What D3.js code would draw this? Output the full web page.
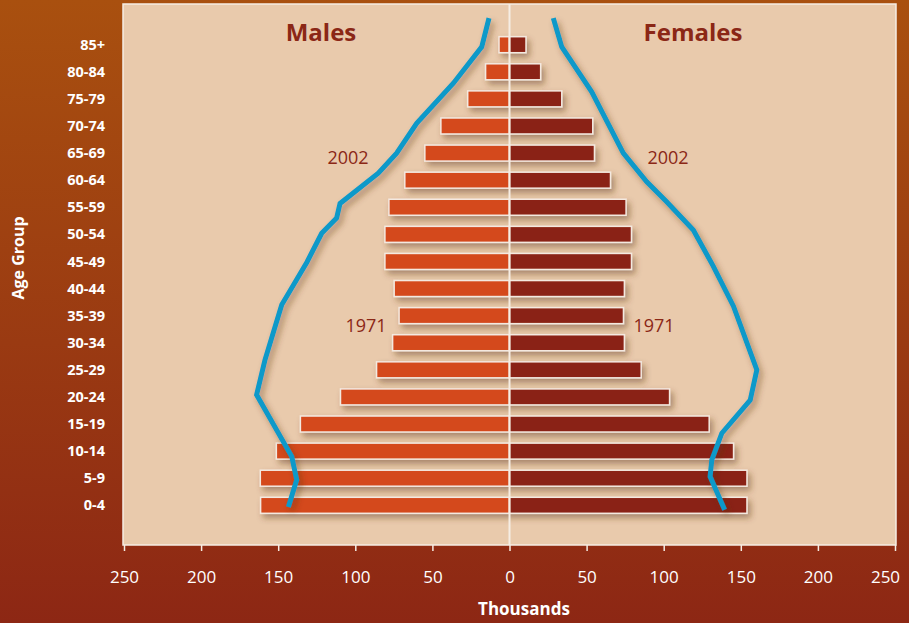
<!DOCTYPE html>
<html>
<head>
<meta charset="utf-8">
<script src="https://cdn.jsdelivr.net/npm/d3@7"></script>
<style>
  html, body { margin: 0; padding: 0; background: #9a3a12; }
  svg { display: block; }
  text { font-family: "Open Sans", "Noto Sans", sans-serif; }
</style>
</head>
<body>
<svg id="chart" width="909" height="623"></svg>
<script>
// ---- data (thousands) ----
const ageGroups = ["0-4","5-9","10-14","15-19","20-24","25-29","30-34","35-39","40-44",
                   "45-49","50-54","55-59","60-64","65-69","70-74","75-79","80-84","85+"];
const males1971   = [161.4,161.6,151.2,135.6,109.6,86.2,75.8,71.6,74.8,80.8,80.8,78.2,67.9,54.9,44.5,27.1,15.5,6.8];
const females1971 = [154,154,145.3,129.5,103.8,85.4,74.5,73.9,74.5,79.1,79.1,75.6,65.5,55.1,54,33.9,20.2,10.7];

// 2002 outlines: age (years) and population (thousands)
const male2002Ages   = [2.2, 7.2, 11.5, 22.9, 29.3, 39.5, 43.1, 47.4, 52.7, 55.5, 58.2, 63.8, 67.5, 73, 80.4, 87.1, 92.4];
const male2002Values = [143.4,138,141.2,164,158.6,147.7,140.2,131.3,121.8,112.1,109.9,85.1,73.2,60.2,36.4,18,13.3];
const female2002Ages   = [1.7, 7.8, 10.9, 15.8, 21.9, 27.5, 39.2, 46.6, 53.3, 58.5, 62.2, 67.5, 78.8, 87.1, 92.4];
const female2002Values = [139.5,130.1,131.2,137.7,156.1,160.4,145.3,132.2,119.2,101.9,89,73.8,53.3,33.9,28.4];

const xTicks = [-250,-200,-150,-100,-50,0,50,100,150,200,250];

// ---- layout ----
const svg = d3.select("#chart");
const W = 909, H = 623;
const plot = {left: 123, right: 896, top: 4, bottom: 545};
const x0 = 509.5, xSpan = 385.5;

const defs = svg.append("defs");
const grad = defs.append("linearGradient").attr("id","bg").attr("x1",0).attr("y1",0).attr("x2",0).attr("y2",1);
grad.append("stop").attr("offset","0%").attr("stop-color","#A9500F");
grad.append("stop").attr("offset","55%").attr("stop-color","#9A3A12");
grad.append("stop").attr("offset","100%").attr("stop-color","#8D2714");

const shadow = defs.append("filter").attr("id","shadow").attr("x","-20%").attr("y","-50%").attr("width","140%").attr("height","200%");
shadow.append("feDropShadow").attr("dx",3).attr("dy",4).attr("stdDeviation",3)
  .attr("flood-color","#5b3418").attr("flood-opacity",0.45);

svg.append("rect").attr("width",W).attr("height",H).attr("fill","url(#bg)");
svg.append("rect").attr("x",plot.left).attr("y",plot.top)
  .attr("width",plot.right-plot.left).attr("height",plot.bottom-plot.top)
  .attr("fill","#E9CAAC").attr("stroke","#F6EDE4").attr("stroke-width",1.5);

// scales
const xAxisScale = d3.scaleLinear().domain([-250,250]).range([x0 - xSpan, x0 + xSpan]);
const xM = d3.scaleLinear().domain([0,250]).range([x0, x0 - xSpan]);
const xF = d3.scaleLinear().domain([0,250]).range([x0, x0 + xSpan]);
const yIdx = d3.scaleLinear().domain([-0.5, 17.5]).range([518.85, 31.15]);
const yPoint = d3.scalePoint().domain(ageGroups).range([yIdx(0), yIdx(17)]);
const yAge = d3.scaleLinear().domain([2.5, 87.5]).range([yIdx(0), yIdx(17)]);
const barH = 16;

// bars
const gBars = svg.append("g").attr("filter","url(#shadow)");
gBars.selectAll("rect.m").data(ageGroups).join("rect").attr("class","m")
  .attr("x",(d,i)=>xM(males1971[i])).attr("y",d=>yPoint(d)-barH/2)
  .attr("width",(d,i)=>x0 - xM(males1971[i])).attr("height",barH)
  .attr("fill","#D4491B").attr("stroke","#F4E9E0").attr("stroke-width",1.5);
gBars.selectAll("rect.f").data(ageGroups).join("rect").attr("class","f")
  .attr("x",x0).attr("y",d=>yPoint(d)-barH/2)
  .attr("width",(d,i)=>xF(females1971[i]) - x0).attr("height",barH)
  .attr("fill","#8A2213").attr("stroke","#F4E9E0").attr("stroke-width",1.5);

// center line
svg.append("line").attr("x1",x0).attr("x2",x0).attr("y1",plot.top).attr("y2",plot.bottom)
  .attr("stroke","#F6EDE4").attr("stroke-width",2);

// 2002 lines
const line = d3.line();
const mPts = male2002Ages.map((a,i)=>[xM(male2002Values[i]), yAge(a)]);
const fPts = female2002Ages.map((a,i)=>[xF(female2002Values[i]), yAge(a)]);
const gLines = svg.append("g").attr("filter","url(#shadow)");
[mPts,fPts].forEach(p=>{
  gLines.append("path").attr("d",line(p)).attr("fill","none")
    .attr("stroke","#0A99C9").attr("stroke-width",5).attr("stroke-linejoin","miter");
});

// labels inside plot
const dark = "#8B2716";
svg.append("text").attr("x",321).attr("y",41).attr("text-anchor","middle")
  .attr("font-size",24).attr("font-weight","bold").attr("fill",dark).text("Males");
svg.append("text").attr("x",693).attr("y",41).attr("text-anchor","middle")
  .attr("font-size",24).attr("font-weight","bold").attr("fill",dark).text("Females");
[[348,164,"2002"],[668,164,"2002"],[366,332,"1971"],[654,332,"1971"]].forEach(([x,y,t])=>{
  svg.append("text").attr("x",x).attr("y",y).attr("text-anchor","middle")
    .attr("font-size",18).attr("fill",dark).text(t);
});

// y axis
const yAxis = svg.append("g").attr("transform","translate(105,0)")
  .call(d3.axisLeft(yPoint).tickSize(0).tickPadding(0));
yAxis.select(".domain").remove();
yAxis.selectAll("text").attr("fill","#FFFFFF").attr("font-size",14.5).attr("font-weight","bold")
  .attr("font-family","'Open Sans', sans-serif");
svg.append("text").attr("transform","translate(24,258) rotate(-90)").attr("text-anchor","middle")
  .attr("font-size",16).attr("font-weight","bold").attr("fill","#FFFFFF").text("Age Group");

// x axis
const xAxis = svg.append("g").attr("transform",`translate(0,${plot.bottom})`)
  .call(d3.axisBottom(xAxisScale).tickValues(xTicks).tickFormat(d=>Math.abs(d)).tickSize(6).tickPadding(20));
xAxis.select(".domain").remove();
xAxis.selectAll("line").attr("stroke","#F6EDE4").attr("stroke-width",1.5);
xAxis.selectAll("text").attr("fill","#FFFFFF").attr("font-size",17)
  .attr("font-family","'Open Sans', sans-serif")
  .attr("dx",d=>d===250 ? -10 : 0);
svg.append("text").attr("x",524).attr("y",615).attr("text-anchor","middle")
  .attr("font-size",17).attr("font-weight","bold").attr("fill","#FFFFFF").text("Thousands");
</script>
</body>
</html>
